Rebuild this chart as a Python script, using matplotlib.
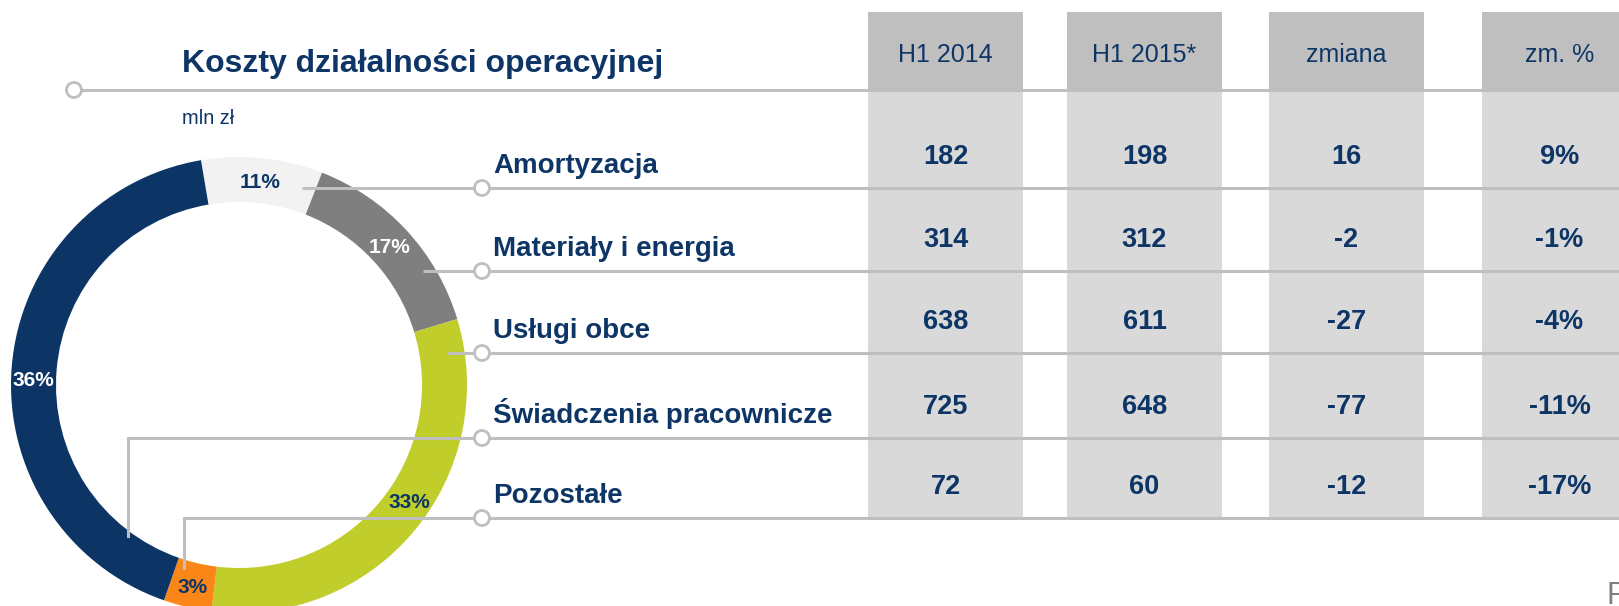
import numpy as np
import matplotlib
matplotlib.use('Agg')
import matplotlib.pyplot as plt
from matplotlib.patches import Rectangle, Circle

plt.rcParams['font.family'] = ['Liberation Sans', 'DejaVu Sans']

# dane tabeli
kategorie = ['Amortyzacja', 'Materiały i energia', 'Usługi obce',
             'Świadczenia pracownicze', 'Pozostałe']
kolumny = ['H1 2014', 'H1 2015*', 'zmiana', 'zm. %']
h1_2014 = [182, 314, 638, 725, 72]
h1_2015 = [198, 312, 611, 648, 60]
zmiana = [16, -2, -27, -77, -12]
zmiana_proc = ['9%', '-1%', '-4%', '-11%', '-17%']

# pierścień (od góry, zgodnie z ruchem wskazówek zegara)
# udziały, etykiety jak na slajdzie
pierscien_udzial = [8.6, 14.4, 31.6, 3.4, 42.0]
pierscien_etykiety = ['11%', '17%', '33%', '3%', '36%']

# kolory
granat = '#0d3566'
kolory_pierscienia = ['#f2f2f2', '#7f7f7f', '#c0cd2a', '#fb8618', '#0c3566']
kolory_etykiet = [granat, 'white', granat, granat, 'white']
szary_linii = '#bfbfbf'
szary_naglowka = '#bfbfbf'
szary_komorki = '#d9d9d9'

W, H = 1619, 606


def Y(y):
    # pozycje podaję od góry obrazka
    return H - y


fig = plt.figure(figsize=(W / 100, H / 100), dpi=100)
ax = fig.add_axes([0, 0, 1, 1])

# --- pierścień ---
cx, cy, R, szer = 239, Y(385), 228, 45
wedges, _ = ax.pie(pierscien_udzial, colors=kolory_pierscienia, startangle=99.6,
                   counterclock=False, center=(cx, cy), radius=R,
                   wedgeprops=dict(width=szer, linewidth=0), frame=True)

# drobne przesunięcia etykiet względem środka wycinka (stopnie)
przesuniecie = [0, 0, 6, 0, 3]
r_etyk = R - szer / 2
for w, lab, kol, off in zip(wedges, pierscien_etykiety, kolory_etykiet, przesuniecie):
    kat = np.deg2rad((w.theta1 + w.theta2) / 2 + off)
    x = cx + r_etyk * np.cos(kat)
    y = cy + r_etyk * np.sin(kat)
    ax.text(x, y - 7.5, lab, ha='center', va='baseline', fontsize=15,
            fontweight='bold', color=kol, zorder=5)

# --- tabela ---
kol_x = [868, 1067, 1269, 1482]
kol_w = 155
for x0, naz in zip(kol_x, kolumny):
    ax.add_patch(Rectangle((x0, Y(89)), kol_w, 89 - 12, color=szary_naglowka,
                           lw=0, zorder=1))
    ax.add_patch(Rectangle((x0, Y(519)), kol_w, 519 - 89, color=szary_komorki,
                           lw=0, zorder=1))
    ax.text(x0 + kol_w / 2, Y(62), naz, ha='center', va='baseline',
            fontsize=18, color=granat, zorder=5)

# linia pod tytułem
ax.plot([74, W], [Y(90), Y(90)], color=szary_linii, lw=2.2, zorder=2,
        solid_capstyle='butt')
ax.add_patch(Circle((74, Y(90)), 7.5, facecolor='white', edgecolor=szary_linii,
                    lw=2, zorder=4))

# wiersze
wiersze_y = [188, 271, 353, 438, 518]
start_x = [302, 423, 447, 128, 184]
koniec_pion = [None, None, None, 536, 568]
x_kolka = 482
wartosci = list(zip(h1_2014, h1_2015, zmiana, zmiana_proc))
for i, (yl, xs, yv) in enumerate(zip(wiersze_y, start_x, koniec_pion)):
    ax.plot([xs, W], [Y(yl), Y(yl)], color=szary_linii, lw=2.2, zorder=3,
            solid_capstyle='butt')
    if yv is not None:
        ax.plot([xs, xs], [Y(yl), Y(yv)], color=szary_linii, lw=2.2, zorder=3)
    ax.add_patch(Circle((x_kolka, Y(yl)), 7.5, facecolor='white',
                        edgecolor=szary_linii, lw=2, zorder=4))
    ax.text(493, Y(yl - 15), kategorie[i], ha='left', va='baseline',
            fontsize=20, fontweight='bold', color=granat, zorder=5)
    for x0, v in zip(kol_x, wartosci[i]):
        ax.text(x0 + kol_w / 2, Y(yl - 24), str(v), ha='center', va='baseline',
                fontsize=19.5, fontweight='bold', color=granat, zorder=5)

# tytuł i jednostka
ax.text(182, Y(72), 'Koszty działalności operacyjnej', ha='left', va='baseline',
        fontsize=23, fontweight='bold', color=granat)
ax.text(182, Y(124), 'mln zł', ha='left', va='baseline', fontsize=14.4,
        color=granat)

# ucięta litera w prawym dolnym rogu
ax.text(1606, Y(581), 'P', ha='left', va='top', fontsize=22, color='#7f7f7f')

ax.set_xlim(0, W)
ax.set_ylim(0, H)
ax.axis('off')

fig.savefig('out.png', dpi=100)
